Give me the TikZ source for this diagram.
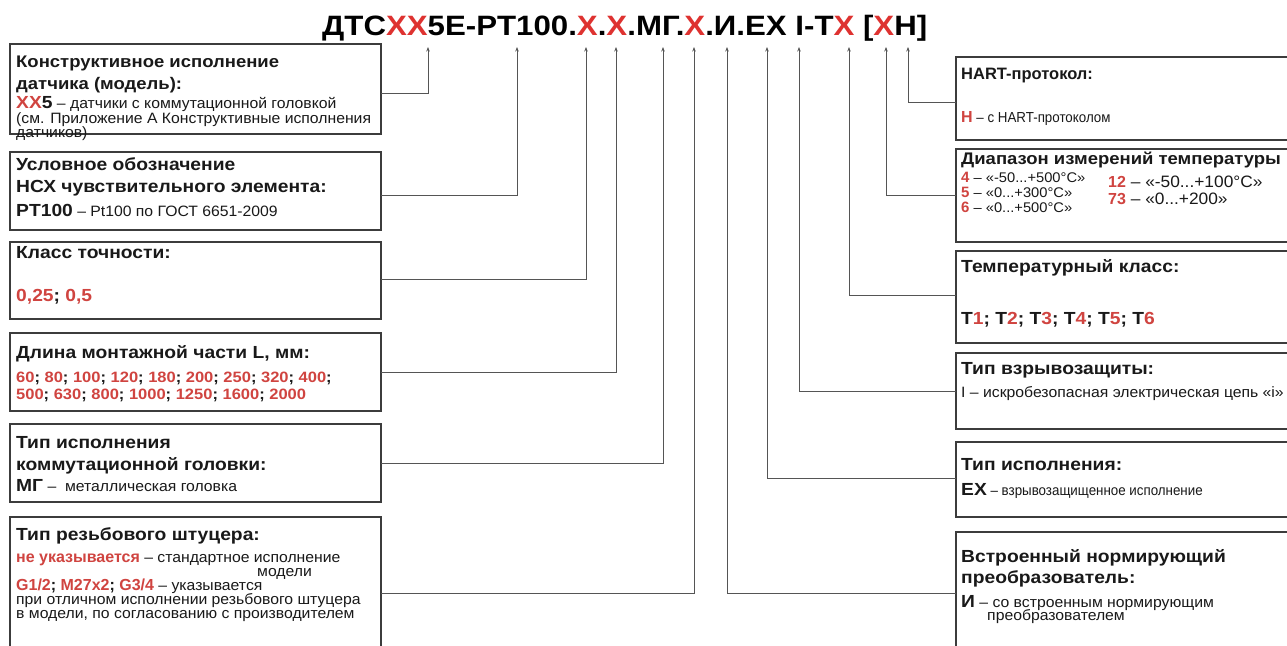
\documentclass[tikz,border=0pt]{standalone}
\usepackage{fontspec}
\setmainfont{Liberation Sans}
\newfontfamily\nar[FakeStretch=0.92]{Liberation Sans}
\newfontfamily\hfam[FakeStretch=1.1]{Liberation Sans}
\newfontfamily\bfam[FakeStretch=1.05]{Liberation Sans}
\usetikzlibrary{arrows.meta}
\definecolor{xr}{RGB}{222,50,48}
\definecolor{vr}{RGB}{208,68,64}
\definecolor{bx}{RGB}{60,60,60}
\definecolor{cn}{RGB}{85,85,85}
\newcommand\hfnt{\hfam\fontsize{17.5}{18}\selectfont\bfseries}
\newcommand\hfntS{\normalfont\fontsize{16.5}{18}\selectfont\bfseries}
\newcommand\hfntM{\hfam\fontsize{16.8}{18}\selectfont\bfseries}
\newcommand\bfnt{\bfam\fontsize{15}{15}\selectfont}
\newcommand\bfntS{\nar\fontsize{14.5}{15}\selectfont}
\newcommand\bfntT{\bfam\fontsize{14}{14}\selectfont}
\newcommand\bfntL{\bfam\fontsize{16.5}{16.5}\selectfont}
\newcommand\V[1]{{\hfam\fontsize{17.5}{17.5}\selectfont\bfseries #1}}
\newcommand\RV[1]{{\hfam\fontsize{17.5}{17.5}\selectfont\bfseries\color{vr}#1}}
\newcommand\VN[1]{{\normalfont\fontsize{16}{16}\selectfont\bfseries #1}}
\newcommand\RVN[1]{{\normalfont\fontsize{16}{16}\selectfont\bfseries\color{vr}#1}}
\newcommand\RVT[1]{{\normalfont\fontsize{15}{15}\selectfont\bfseries\color{vr}#1}}
\newcommand\SV[1]{{\hfam\fontsize{15}{15}\selectfont\bfseries #1}}
\newcommand\SR[1]{{\hfam\fontsize{15}{15}\selectfont\bfseries\color{vr}#1}}
\tikzset{
  box/.style={draw=bx, line width=1.4pt, fill=white, inner sep=0pt, outer sep=0pt, anchor=north west},
  hd/.style={anchor=base west, inner sep=0pt, font=\hfnt, text=black!90},
  bd/.style={anchor=base west, inner sep=0pt, font=\bfnt, text=black!90},
  conn/.style={draw=cn, line width=1pt, -{Stealth[length=4.5pt,width=3.5pt]}}
}
\begin{document}
\begin{tikzpicture}[x=1pt,y=-1pt]
\useasboundingbox (0,0) rectangle (1287,645);
\clip (0,0) rectangle (1287,645);
\fill[white] (0,0) rectangle (1287,645);

% title
\node[anchor=base west, inner sep=0pt] (title) at (322,35)
 {\resizebox{605pt}{\height}{\fontsize{28}{28}\selectfont\bfseries ДТС\textcolor{xr}{XX}5E-PT100.\textcolor{xr}{X}.\textcolor{xr}{X}.МГ.\textcolor{xr}{X}.И.EX I-T\textcolor{xr}{X} [\textcolor{xr}{X}H]}};

% arrow tips
\coordinate (a1) at (428,47);
\coordinate (a2) at (517,47);
\coordinate (a3) at (586,47);
\coordinate (a4) at (616,47);
\coordinate (a5) at (663,47);
\coordinate (a6) at (694,47);
\coordinate (a7) at (727,47);
\coordinate (a8) at (767,47);
\coordinate (a9) at (799,47);
\coordinate (a10) at (849,47);
\coordinate (a11) at (886,47);
\coordinate (a12) at (908,47);

% left boxes
\node[box, minimum width=371pt, minimum height=90pt] (b1) at (10,44) {};
\node[box, minimum width=371pt, minimum height=78pt] (b2) at (10,152) {};
\node[box, minimum width=371pt, minimum height=77pt] (b3) at (10,242) {};
\node[box, minimum width=371pt, minimum height=78pt] (b4) at (10,333) {};
\node[box, minimum width=371pt, minimum height=78pt] (b5) at (10,424) {};
\node[box, minimum width=371pt, minimum height=150pt] (b6) at (10,517) {};

% right boxes
\node[box, minimum width=360pt, minimum height=83pt] (r1) at (956,57) {};
\node[box, minimum width=360pt, minimum height=93pt] (r2) at (956,149) {};
\node[box, minimum width=360pt, minimum height=92pt] (r3) at (956,251) {};
\node[box, minimum width=360pt, minimum height=76pt] (r4) at (956,353) {};
\node[box, minimum width=360pt, minimum height=75pt] (r5) at (956,442) {};
\node[box, minimum width=360pt, minimum height=140pt] (r6) at (956,532) {};

% connectors left
\draw[conn] ([yshift=-49pt]b1.north east) -| (a1);
\draw[conn] ([yshift=-43pt]b2.north east) -| (a2);
\draw[conn] ([yshift=-37pt]b3.north east) -| (a3);
\draw[conn] ([yshift=-39pt]b4.north east) -| (a4);
\draw[conn] ([yshift=-39pt]b5.north east) -| (a5);
\draw[conn] ([yshift=-76pt]b6.north east) -| (a6);
% connectors right
\draw[conn] ([yshift=-61pt]r6.north west) -| (a7);
\draw[conn] ([yshift=-36pt]r5.north west) -| (a8);
\draw[conn] ([yshift=-38pt]r4.north west) -| (a9);
\draw[conn] ([yshift=-44pt]r3.north west) -| (a10);
\draw[conn] ([yshift=-46pt]r2.north west) -| (a11);
\draw[conn] ([yshift=-45pt]r1.north west) -| (a12);

% box 1 text
\node[hd, font=\hfntM] (b1h1) at (16,67) {Конструктивное исполнение};
\node[hd, font=\hfntM] (b1h2) at (16,89) {датчика (модель):};
\node[bd] (b1t1) at (16,108) {\RV{XX}\V{5} – датчики с коммутационной головкой};
\node[bd] (b1t2) at (16,123) {(см. Приложение А Конструктивные исполнения};
\node[bd] (b1t3) at (16,137) {датчиков)};

% box 2 text
\node[hd] (b2h1) at (16,170) {Условное обозначение};
\node[hd] (b2h2) at (16,192) {НСХ чувствительного элемента:};
\node[bd] (b2t1) at (16,216) {\V{PT100} – Pt100 по ГОСТ 6651-2009};

% box 3 text
\node[hd] (b3h1) at (16,258) {Класс точности:};
\node[bd] (b3t1) at (16,301) {\RV{0,25}\V{; }\RV{0,5}};

% box 4 text
\node[hd] (b4h1) at (16,358) {Длина монтажной части L, мм:};
\node[bd] (b4t1) at (16,382) {\SR{60}\SV{; }\SR{80}\SV{; }\SR{100}\SV{; }\SR{120}\SV{; }\SR{180}\SV{; }\SR{200}\SV{; }\SR{250}\SV{; }\SR{320}\SV{; }\SR{400}\SV{;}};
\node[bd] (b4t2) at (16,399) {\SR{500}\SV{; }\SR{630}\SV{; }\SR{800}\SV{; }\SR{1000}\SV{; }\SR{1250}\SV{; }\SR{1600}\SV{; }\SR{2000}};

% box 5 text
\node[hd] (b5h1) at (16,448) {Тип исполнения};
\node[hd] (b5h2) at (16,470) {коммутационной головки:};
\node[bd] (b5t1) at (16,491) {\V{МГ} –\ \ металлическая головка};

% box 6 text
\node[hd] (b6h1) at (16,540) {Тип резьбового штуцера:};
\node[bd] (b6t1) at (16,562) {\RVN{не указывается} – стандартное исполнение};
\node[bd] (b6t2) at (257,576) {модели};
\node[bd] (b6t3) at (16,590) {\RVN{G1/2}\VN{; }\RVN{M27x2}\VN{; }\RVN{G3/4} – указывается};
\node[bd] (b6t4) at (16,604) {при отличном исполнении резьбового штуцера};
\node[bd] (b6t5) at (16,618) {в модели, по согласованию с производителем};

% right box 1
\node[hd, font=\hfntS] (r1h1) at (961,79) {HART-протокол:};
\node[bd, font=\bfntS] (r1t1) at (961,122) {\RVN{H} – с HART-протоколом};
% right box 2
\node[hd, font=\hfntM] (r2h1) at (961,164) {Диапазон измерений температуры};
\node[bd, font=\bfntT] (r2t1) at (961,182) {\RVT{4} – «-50...+500°C»};
\node[bd, font=\bfntT] (r2t2) at (961,197) {\RVT{5} – «0...+300°C»};
\node[bd, font=\bfntT] (r2t3) at (961,212) {\RVT{6} – «0...+500°C»};
\node[bd, font=\bfntL] (r2t4) at (1108,187) {\RVN{12} – «-50...+100°C»};
\node[bd, font=\bfntL] (r2t5) at (1108,204) {\RVN{73} – «0...+200»};
% right box 3
\node[hd] (r3h1) at (961,272) {Температурный класс:};
\node[bd] (r3t1) at (961,324) {\V{T}\RV{1}\V{; T}\RV{2}\V{; T}\RV{3}\V{; T}\RV{4}\V{; T}\RV{5}\V{; T}\RV{6}};
% right box 4
\node[hd] (r4h1) at (961,374) {Тип взрывозащиты:};
\node[bd] (r4t1) at (961,397) {I – искробезопасная электрическая цепь «i»};
% right box 5
\node[hd] (r5h1) at (961,470) {Тип исполнения:};
\node[bd, font=\bfntS] (r5t1) at (961,495) {\V{EX} – взрывозащищенное исполнение};
% right box 6
\node[hd] (r6h1) at (961,562) {Встроенный нормирующий};
\node[hd] (r6h2) at (961,583) {преобразователь:};
\node[bd] (r6t1) at (961,607) {\V{И} – со встроенным нормирующим};
\node[bd] (r6t2) at (987,620) {преобразователем};
\end{tikzpicture}
\end{document}
